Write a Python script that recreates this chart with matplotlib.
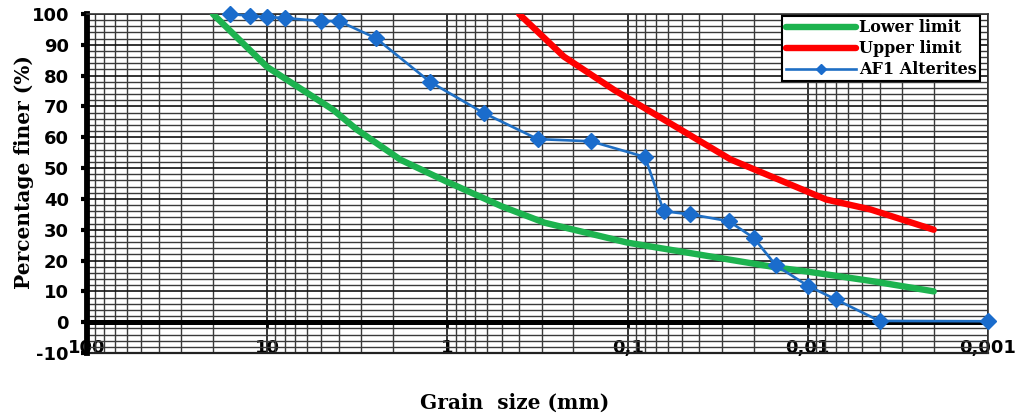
import matplotlib
matplotlib.use("Agg")
import matplotlib.pyplot as plt
from matplotlib.ticker import LogLocator, MultipleLocator, NullFormatter
from matplotlib.font_manager import FontProperties

plt.rcParams["axes.unicode_minus"] = False

# ---- data ----
lower_size = [20, 10, 4.3, 3.18, 1.82, 1.0, 0.5, 0.29, 0.1, 0.0147, 0.01, 0.0045, 0.002]
lower_pct = [100, 82.8, 68.9, 62.5, 52.7, 45.5, 37.6, 32.3, 25.8, 17.7, 16.4, 13.4, 10]

upper_size = [0.4, 0.226, 0.119, 0.0508, 0.0268, 0.0079, 0.0045, 0.002]
upper_pct = [100, 86.2, 75.4, 62.5, 52.8, 39.8, 36.6, 30]

sample_size = [16, 12.5, 10, 8, 5, 4, 2.5, 1.25, 0.63, 0.315, 0.16, 0.08,
               0.063, 0.045, 0.0275, 0.02, 0.015, 0.01, 0.007, 0.004, 0.001]
sample_pct = [100, 99.4, 99, 98.7, 97.7, 97.7, 92.2, 78, 67.9, 59.4, 58.7, 53.6,
              36, 35, 32.8, 27.4, 18.4, 11.8, 7.4, 0.4, 0.3]

x_ticks = [100, 10, 1, 0.1, 0.01, 0.001]
x_tick_labels = ["100", "10", "1", "0,1", "0,01", "0,001"]
y_ticks = list(range(-10, 101, 10))

series_labels = ["Lower limit", "Upper limit", "AF1 Alterites"]

# ---- figure ----
W, H = 1019, 419
fig = plt.figure(figsize=(W / 100, H / 100), dpi=100)
L, R, T, B = 87, 988, 14, 353
ax = fig.add_axes([L / W, 1 - B / H, (R - L) / W, (B - T) / H])

ax.set_xscale("log")
ax.set_xlim(100, 0.001)
ax.set_ylim(-10, 100)

ax.plot(lower_size, lower_pct, color="#1db34f", lw=4.6, solid_capstyle="round",
        label=series_labels[0], zorder=3)
ax.plot(upper_size, upper_pct, color="#ff0000", lw=4.6, solid_capstyle="round",
        label=series_labels[1], zorder=3)
ax.plot(sample_size, sample_pct, color="#1f6fc4", lw=1.9, marker="D", ms=8,
        mfc="#1a6ccc", mec="#1a6ccc", label=series_labels[2], zorder=4,
        clip_on=False)

# grid
ax.set_axisbelow(True)
ax.xaxis.set_minor_locator(LogLocator(base=10, subs=range(2, 10), numticks=30))
ax.xaxis.set_minor_formatter(NullFormatter())
ax.yaxis.set_minor_locator(MultipleLocator(2))
ax.grid(True, which="major", axis="both", color="#111111", lw=1.2)
ax.grid(True, which="minor", axis="both", color="#3a3a3a", lw=1.0)

# spines
ax.spines["bottom"].set_position(("data", 0))
ax.spines["bottom"].set_linewidth(3.6)
ax.spines["left"].set_linewidth(4.2)
for s in ("top", "right"):
    ax.spines[s].set_linewidth(1.2)
    ax.spines[s].set_color("#333333")
ax.plot([0, 1], [0, 0], transform=ax.transAxes, color="#222222", lw=1.6,
        clip_on=False, zorder=2)

# ticks
ax.set_xticks(x_ticks)
ax.set_xticklabels(x_tick_labels)
ax.set_yticks(y_ticks)
tick_fp = FontProperties(family="DejaVu Sans", weight="bold", size=13)
for lab in ax.get_xticklabels() + ax.get_yticklabels():
    lab.set_fontproperties(tick_fp)
ax.tick_params(axis="x", which="major", direction="out", length=4, width=2, pad=8)
ax.tick_params(axis="x", which="minor", length=0)
ax.tick_params(axis="y", which="major", direction="out", length=4, width=3, pad=9)
ax.tick_params(axis="y", which="minor", length=0)

# axis titles
lab_font = dict(family="DejaVu Serif", weight="bold", size=14.5)
ax.set_ylabel("Percentage finer (%)", **lab_font)
ax.yaxis.set_label_coords((34 - L) / (R - L), (B - 172) / (B - T))
fig.text(515 / W, 1 - 403 / H, "Grain  size (mm)", ha="center", va="center", **lab_font)

# legend
leg = ax.legend(loc="upper right", bbox_to_anchor=((980 - L) / (R - L), (B - 16) / (B - T)),
                borderaxespad=0, fancybox=False, framealpha=1, edgecolor="black",
                prop=dict(family="DejaVu Serif", weight="bold", size=11.5),
                handlelength=4.4, handletextpad=0.2, labelspacing=0.25,
                borderpad=0.2, markerscale=0.6)
leg.get_frame().set_linewidth(1.5)

fig.savefig("out.png", dpi=100)
